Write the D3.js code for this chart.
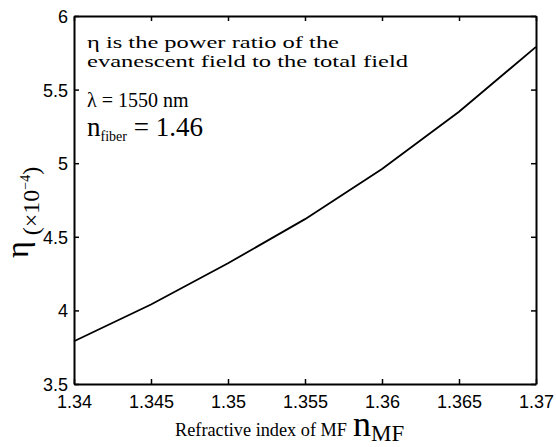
<!DOCTYPE html>
<html>
<head>
<meta charset="utf-8">
<script src="https://cdn.jsdelivr.net/npm/d3@7"></script>
<style>
  html, body { margin: 0; padding: 0; background: #fff; }
  svg { display: block; }
</style>
</head>
<body>
<script>
// ---- data ----
const refractiveIndex = [1.34, 1.345, 1.35, 1.355, 1.36, 1.365, 1.37];
const etaValues = [3.79, 4.04, 4.32, 4.62, 4.96, 5.35, 5.79];
const xTicks = [1.34, 1.345, 1.35, 1.355, 1.36, 1.365, 1.37];
const xTickLabels = ["1.34", "1.345", "1.35", "1.355", "1.36", "1.365", "1.37"];
const yTicks = [3.5, 4, 4.5, 5, 5.5, 6];
const yTickLabels = ["3.5", "4", "4.5", "5", "5.5", "6"];

const W = 556, H = 447;
const m = { left: 74, right: 20, top: 16, bottom: 63 };
const svg = d3.select("body").append("svg").attr("width", W).attr("height", H);

const x = d3.scaleLinear().domain([1.34, 1.37]).range([m.left, W - m.right]);
const y = d3.scaleLinear().domain([3.5, 6]).range([H - m.bottom, m.top]);

const tickFont = "'Liberation Sans', Arial, sans-serif";
const serif = "'Liberation Serif', 'Times New Roman', serif";

// axes with inward ticks
const xb = svg.append("g").attr("transform", `translate(0,${y(3.5)})`)
  .call(d3.axisBottom(x).tickValues(xTicks).tickFormat((d, i) => xTickLabels[i]).tickSizeInner(-5).tickSizeOuter(0).tickPadding(11));
const xt = svg.append("g").attr("transform", `translate(0,${y(6)})`)
  .call(d3.axisTop(x).tickValues(xTicks).tickFormat("").tickSizeInner(-5).tickSizeOuter(0));
const yl = svg.append("g").attr("transform", `translate(${x(1.34)},0)`)
  .call(d3.axisLeft(y).tickValues(yTicks).tickFormat((d, i) => yTickLabels[i]).tickSizeInner(-5).tickSizeOuter(0).tickPadding(6));
const yr = svg.append("g").attr("transform", `translate(${x(1.37)},0)`)
  .call(d3.axisRight(y).tickValues(yTicks).tickFormat("").tickSizeInner(-5).tickSizeOuter(0));

[xb, xt, yl, yr].forEach(g => {
  g.select(".domain").attr("stroke", "#000").attr("stroke-width", 2);
  g.selectAll(".tick line").attr("stroke", "#000").attr("stroke-width", 1.5);
  g.selectAll(".tick text").attr("fill", "#000").style("font-family", tickFont).style("font-size", "18px");
});
yl.selectAll(".tick text").attr("dy", "0.36em");

// curve
svg.append("path")
  .datum(refractiveIndex.map((r, i) => [r, etaValues[i]]))
  .attr("fill", "none").attr("stroke", "#000").attr("stroke-width", 1.8)
  .attr("d", d3.line().x(d => x(d[0])).y(d => y(d[1])));

// annotations
const ann = svg.append("g").style("font-family", serif).attr("fill", "#000");
ann.append("text").attr("x", 87).attr("y", 48).style("font-size", "17px")
  .attr("textLength", 252).attr("lengthAdjust", "spacingAndGlyphs")
  .text("η is the  power ratio of the");
ann.append("text").attr("x", 87).attr("y", 67).style("font-size", "17px")
  .attr("textLength", 321).attr("lengthAdjust", "spacingAndGlyphs")
  .text("evanescent field  to the total field");
const t3 = ann.append("text").attr("x", 87).attr("y", 107).style("font-size", "20px");
t3.append("tspan").text("λ = 1550 nm");
const t4 = ann.append("text").attr("x", 87).attr("y", 136).style("font-size", "27px");
t4.append("tspan").text("n");
t4.append("tspan").attr("dy", 5).style("font-size", "14px").text("fiber");
t4.append("tspan").attr("dy", -5).text(" = 1.46");

// x label
const xlab = svg.append("text").attr("x", 175).attr("y", 436).style("font-family", serif).attr("fill", "#000");
xlab.append("tspan").style("font-size", "19px").attr("textLength", 172).attr("lengthAdjust", "spacingAndGlyphs").text("Refractive index of MF");
xlab.append("tspan").attr("dx", 6).style("font-size", "36px").text("n");
xlab.append("tspan").attr("dy", 5).style("font-size", "23px").text("MF");

// y label
const ylab = svg.append("text").attr("transform", "translate(28,258) rotate(-90)")
  .style("font-family", serif).attr("fill", "#000");
ylab.append("tspan").style("font-size", "32px").text("η");
ylab.append("tspan").attr("dx", 6).attr("dy", 11).style("font-size", "24px").text("(×10");
ylab.append("tspan").attr("dy", -9).style("font-size", "14px").text("−4");
ylab.append("tspan").attr("dy", 9).style("font-size", "24px").text(")");
</script>
</body>
</html>
